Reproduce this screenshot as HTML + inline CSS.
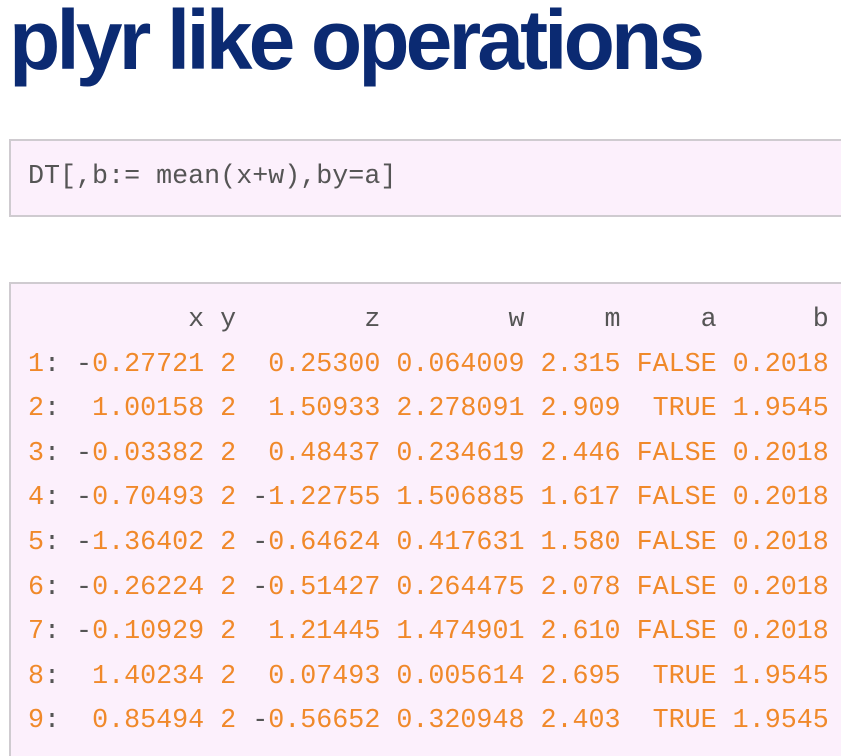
<!DOCTYPE html>
<html style="height:756px;overflow:hidden"><head><meta charset="utf-8"><style>
body{margin:0;width:841px;height:756px;overflow:hidden;background:#fff;position:relative;font-family:"Liberation Sans",sans-serif}
h1{position:absolute;left:9px;top:-20px;margin:0;font-size:84px;font-weight:bold;color:#0b2a72;letter-spacing:-3.9px;line-height:120px;white-space:nowrap}
.box{position:absolute;left:9px;width:860px;background:#fcf0fc;border:2px solid #cfcbd0;box-sizing:border-box}
pre{position:absolute;left:28px;margin:0;font-family:"Liberation Mono",monospace;font-size:26.7px;line-height:44.6px;color:#555}
.o{color:#f0892a}
</style></head><body>
<h1>plyr like operations</h1>
<div class="box" style="top:139px;height:78px"></div>
<pre style="top:155px">DT[,b:= mean(x+w),by=a]</pre>
<div class="box" style="top:282px;height:490px"></div>
<pre style="top:298px">          x y        z        w     m     a      b
<span class="o">1</span>: -<span class="o">0.27721 2  0.25300 0.064009 2.315 FALSE 0.2018</span>
<span class="o">2</span>:  <span class="o">1.00158 2  1.50933 2.278091 2.909  TRUE 1.9545</span>
<span class="o">3</span>: -<span class="o">0.03382 2  0.48437 0.234619 2.446 FALSE 0.2018</span>
<span class="o">4</span>: -<span class="o">0.70493 2 </span>-<span class="o">1.22755 1.506885 1.617 FALSE 0.2018</span>
<span class="o">5</span>: -<span class="o">1.36402 2 </span>-<span class="o">0.64624 0.417631 1.580 FALSE 0.2018</span>
<span class="o">6</span>: -<span class="o">0.26224 2 </span>-<span class="o">0.51427 0.264475 2.078 FALSE 0.2018</span>
<span class="o">7</span>: -<span class="o">0.10929 2  1.21445 1.474901 2.610 FALSE 0.2018</span>
<span class="o">8</span>:  <span class="o">1.40234 2  0.07493 0.005614 2.695  TRUE 1.9545</span>
<span class="o">9</span>:  <span class="o">0.85494 2 </span>-<span class="o">0.56652 0.320948 2.403  TRUE 1.9545</span></pre>
</body></html>
